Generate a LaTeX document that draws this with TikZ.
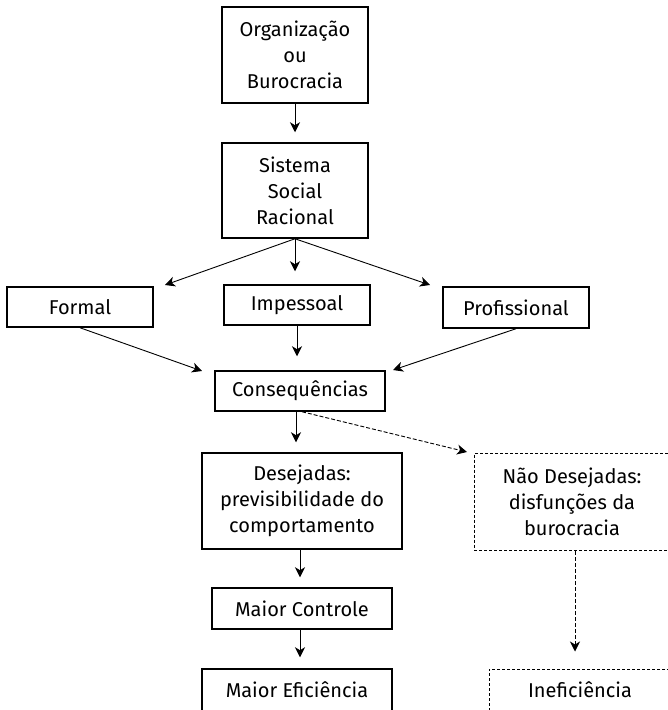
\documentclass[tikz,border=0pt]{standalone}
\usepackage{fontspec}
\setmainfont{Fira Sans}
\usetikzlibrary{arrows.meta}

\begin{document}
\begin{tikzpicture}[x=1pt,y=-1pt,
  box/.style={draw,line width=1.5pt,align=center,inner sep=0pt,font=\fontsize{20}{26}\selectfont},
  dbox/.style={box,line width=1pt,dash pattern=on 3pt off 2pt},
  arr/.style={-{Stealth[length=10pt,width=10pt,inset=3pt]},line width=0.9pt},
  darr/.style={arr,dash pattern=on 4pt off 2pt}]

  \useasboundingbox (0,0) rectangle (668,710);

  %top boxes
  \node[box,minimum width=146pt,minimum height=96pt] (org) at (295,55) {Organização\\ou\\Burocracia};
  \node[box,minimum width=146pt,minimum height=95pt] (sis) at (295,190.5) {Sistema\\Social\\Racional};

  %three kinds
  \node[box,minimum width=146pt,minimum height=40pt] (formal) at (80,307) {Formal};
  \node[box,minimum width=146pt,minimum height=40pt] (impes) at (297,305) {Impessoal};
  \node[box,minimum width=146pt,minimum height=41pt] (prof) at (516,307.5) {Profissional};

  \node[box,minimum width=170pt,minimum height=40pt] (cons) at (300,391) {Consequências};

  %wanted
  \node[box,minimum width=200pt,minimum height=96pt] (desej) at (302,501) {Desejadas:\\previsibilidade do\\comportamento};
  \node[box,minimum width=180pt,minimum height=41pt] (ctrl) at (302,608.5) {Maior Controle};
  \node[box,minimum width=190pt,minimum height=42pt] (efic) at (297,690) {Maior Eficiência};

  %not wanted
  \node[dbox,minimum width=196pt,minimum height=97pt] (naodes) at (572,502) {Não Desejadas:\\disfunções da\\burocracia};
  \node[dbox,minimum width=182pt,minimum height=42pt] (inef) at (580,690) {Ineficiência};

  %free arrow ends
  \coordinate (formalin) at (165,285);
  \coordinate (profin) at (430,285);
  \coordinate (consl) at (202,371);
  \coordinate (consr) at (393,370);
  \coordinate (naoin) at (467,452);

  %arrows
  \draw[arr,shorten >=10pt] (org) -- (sis);
  \draw[arr] (sis.south) -- (formalin);
  \draw[arr,shorten >=13pt] (sis.south) -- (sis.south |- impes.north);
  \draw[arr] (sis.south) -- (profin);

  \draw[arr] (formal.south) -- (consl);
  \draw[arr,shorten >=14pt] (impes.south) -- (impes.south |- cons.north);
  \draw[arr] (prof.south) -- (consr);

  \draw[arr,shorten >=10pt] ([xshift=-4pt]cons.south) -- ([xshift=-4pt]cons.south |- desej.north);
  \draw[darr] ([xshift=2pt]cons.south) -- (naoin);

  \draw[arr,shorten >=10pt] ([xshift=-2pt]desej.south) -- ([xshift=-2pt]desej.south |- ctrl.north);
  \draw[arr,shorten >=11pt] ([xshift=-2pt]ctrl.south) -- ([xshift=-2pt]ctrl.south |- efic.north);
  \draw[darr,shorten >=17pt] ([xshift=3pt]naodes.south) -- ([xshift=3pt]naodes.south |- inef.north);

\end{tikzpicture}
\end{document}
